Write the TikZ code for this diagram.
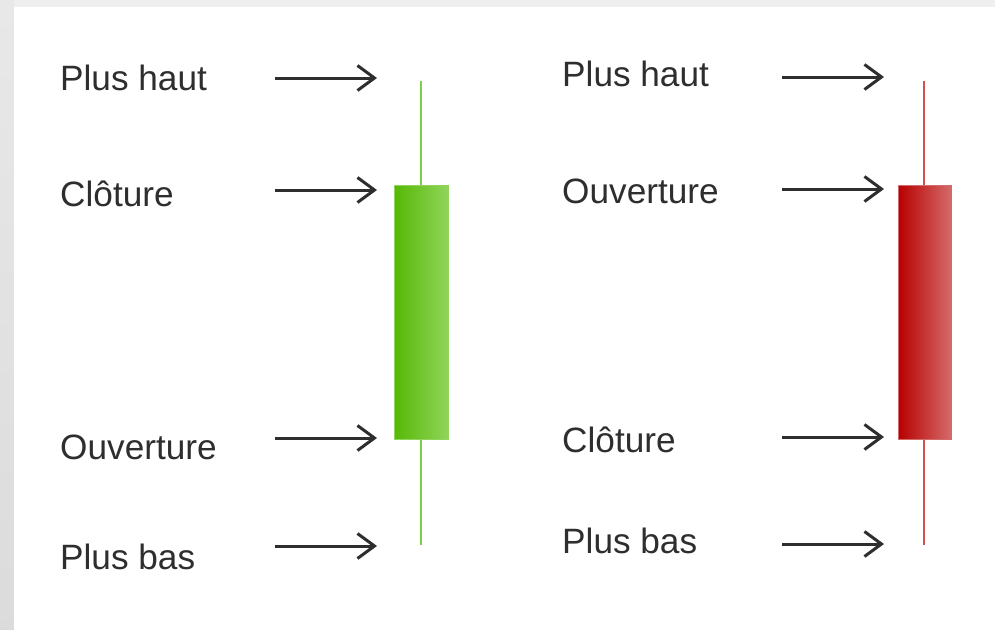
\documentclass[tikz,border=0pt]{standalone}
\usepackage{fontspec}
\setmainfont{Liberation Sans}
\usepackage{tikz}
\usetikzlibrary{arrows.meta}
\definecolor{txtgray}{HTML}{2E2E2E}
\definecolor{bggray}{HTML}{EFEFEF}
\definecolor{greenA}{HTML}{55B805}
\definecolor{greenB}{HTML}{90D45A}
\definecolor{greenwickc}{HTML}{7DD045}
\definecolor{redA}{HTML}{B80000}
\definecolor{redB}{HTML}{D46A6A}
\definecolor{redwickc}{HTML}{D45050}
\tikzstyle{pricetext} = [anchor=base west,
inner sep=0pt,
text=txtgray,
font=\fontsize{35.2}{40}\selectfont]
\tikzstyle{arrow} = [line width=3pt,
draw=txtgray,
-{Straight Barb[length=17pt,width=25pt]}]
\tikzstyle{greenbody} = [rectangle,
minimum width=54pt,
minimum height=254pt,
inner sep=0pt,
left color=greenA, middle color=greenA, right color=greenB,
draw=greenB, line width=0.8pt]
\tikzstyle{redbody} = [rectangle,
minimum width=53pt,
minimum height=254pt,
inner sep=0pt,
left color=redA, middle color=redA, right color=redB,
draw=redB, line width=0.8pt]
\tikzstyle{greenwick} = [draw=greenwickc, line width=1.8pt]
\tikzstyle{redwick} = [draw=redwickc, line width=1.8pt]

\begin{document}
\begin{tikzpicture}[x=1pt, y=-1pt]

    % background
    \useasboundingbox (0,0) rectangle (995,629);
    \fill[bggray] (0,0) rectangle (995,629);
    \shade[top color=gray!18, bottom color=gray!28] (0,0) rectangle (14,629);
    \fill[white] (14,7) rectangle (995,629);

    % green candle
    \coordinate (ghigh) at (421,81);
    \coordinate (glow) at (421,545);
    \draw [greenwick] (ghigh) -- (421,312);
    \draw [greenwick] (421,312) -- (glow);
    \node (gbody) [greenbody] at (421,312) {};

    % red candle
    \coordinate (rhigh) at (924,81);
    \coordinate (rlow) at (924,545);
    \draw [redwick] (rhigh) -- (924,312);
    \draw [redwick] (924,312) -- (rlow);
    \node (rbody) [redbody] at (924.5,312) {};

    % left labels
    \node (lhaut) [pricetext] at (60,90) {Plus haut};
    \node (lclot) [pricetext] at (60,206) {Clôture};
    \node (louv) [pricetext] at (60,459) {Ouverture};
    \node (lbas) [pricetext] at (60,569) {Plus bas};

    % right labels
    \node (rhaut) [pricetext] at (562,86) {Plus haut};
    \node (rouv) [pricetext] at (562,203) {Ouverture};
    \node (rclot) [pricetext] at (562,452) {Clôture};
    \node (rbas) [pricetext] at (562,553) {Plus bas};

    % arrow ends
    \coordinate (lhaut0) at (275,78);
    \coordinate (lhaut1) at (377,78);
    \coordinate (lclot0) at (275,190);
    \coordinate (lclot1) at (377,190);
    \coordinate (louv0) at (275,438);
    \coordinate (louv1) at (377,438);
    \coordinate (lbas0) at (275,546);
    \coordinate (lbas1) at (377,546);
    \coordinate (rhaut0) at (782,77);
    \coordinate (rhaut1) at (884,77);
    \coordinate (rouv0) at (782,189);
    \coordinate (rouv1) at (884,189);
    \coordinate (rclot0) at (782,437);
    \coordinate (rclot1) at (884,437);
    \coordinate (rbas0) at (782,544);
    \coordinate (rbas1) at (884,544);

    \draw [arrow] (lhaut0) -- (lhaut1);
    \draw [arrow] (lclot0) -- (lclot1);
    \draw [arrow] (louv0) -- (louv1);
    \draw [arrow] (lbas0) -- (lbas1);
    \draw [arrow] (rhaut0) -- (rhaut1);
    \draw [arrow] (rouv0) -- (rouv1);
    \draw [arrow] (rclot0) -- (rclot1);
    \draw [arrow] (rbas0) -- (rbas1);

  \end{tikzpicture}
\end{document}
